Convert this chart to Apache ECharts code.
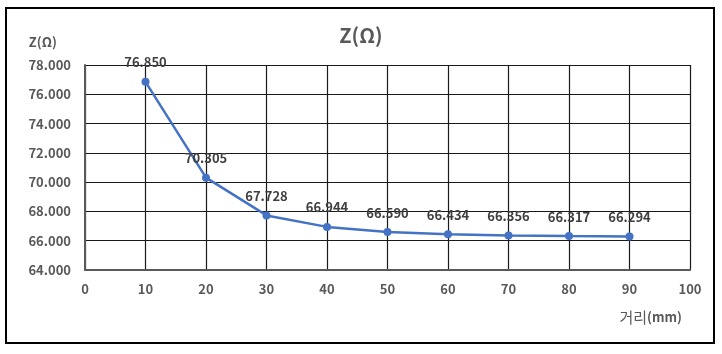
<!DOCTYPE html>
<html>
<head>
<meta charset="utf-8">
<script src="https://cdn.jsdelivr.net/npm/echarts@6/dist/echarts.min.js"></script>
<style>
  html, body { margin: 0; padding: 0; background: #fff; }
  #chart { width: 722px; height: 354px; }
</style>
</head>
<body>
<div id="chart"></div>
<script>
// 거리 (mm) vs Z(Ω)
var distance = [10, 20, 30, 40, 50, 60, 70, 80, 90]
var impedance = [76.850, 70.305, 67.728, 66.944, 66.590, 66.434, 66.356, 66.317, 66.294]

var font = '"Noto Sans CJK KR", "Noto Sans", sans-serif'

var chart = echarts.init(document.getElementById('chart'))
chart.setOption({
  animation: false,
  title: {
    text: 'Z(Ω)',
    left: 'center',
    top: 20,
    textStyle: { fontFamily: font, fontSize: 20, fontWeight: 'bold', color: '#595959' }
  },
  graphic: [{
    type: 'rect',
    shape: { x: 6, y: 8, width: 708, height: 335 },
    style: { fill: 'none', stroke: '#000', lineWidth: 2 },
    silent: true
  }],
  grid: { left: 85, right: 32, top: 65, bottom: 84 },
  xAxis: {
    type: 'value',
    min: 0,
    max: 100,
    interval: 10,
    name: '{k|거리}{u|(mm)}',
    nameLocation: 'end',
    nameGap: 0,
    nameTextStyle: {
      align: 'right', verticalAlign: 'top', padding: [40, 8, 0, 0],
      rich: {
        k: { fontFamily: font, fontSize: 15, color: '#595959' },
        u: { fontFamily: font, fontSize: 13, fontWeight: 'bold', color: '#595959' }
      }
    },
    axisLine: { lineStyle: { color: '#595959', width: 2 } },
    axisTick: { show: false },
    axisLabel: { fontFamily: font, fontSize: 13, fontWeight: 'bold', color: '#595959', margin: 13 },
    splitLine: { show: true, lineStyle: { color: '#1a1a1a', width: 1.2 } }
  },
  yAxis: {
    type: 'value',
    min: 64,
    max: 78,
    interval: 2,
    name: 'Z(Ω)',
    nameLocation: 'end',
    nameGap: 16,
    nameTextStyle: {
      fontFamily: font, fontSize: 13, fontWeight: 'bold', color: '#595959',
      align: 'right', padding: [0, 28, 0, 0]
    },
    axisLine: { show: true, lineStyle: { color: '#595959', width: 2 } },
    axisTick: { show: false },
    axisLabel: {
      fontFamily: font, fontSize: 13, fontWeight: 'bold', color: '#595959', margin: 14,
      formatter: function (v) { return v.toFixed(3) }
    },
    splitLine: { show: true, lineStyle: { color: '#1a1a1a', width: 1.2 } }
  },
  series: [{
    type: 'line',
    data: distance.map(function (d, i) { return [d, impedance[i]] }),
    symbol: 'circle',
    symbolSize: 8,
    lineStyle: { color: '#4472C4', width: 2.5 },
    itemStyle: { color: '#4472C4' },
    label: {
      show: true,
      position: 'top',
      distance: 9,
      fontFamily: font,
      fontSize: 13,
      fontWeight: 'bold',
      color: '#404040',
      formatter: function (p) { return p.value[1].toFixed(3) }
    }
  }]
})
</script>
</body>
</html>
